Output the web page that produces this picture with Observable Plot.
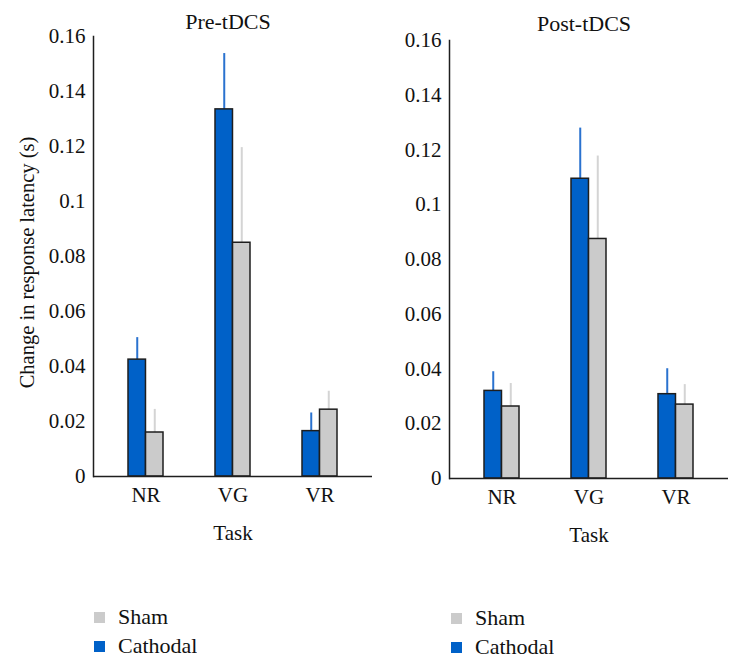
<!DOCTYPE html>
<html><head><meta charset="utf-8">
<script src="https://cdn.jsdelivr.net/npm/d3@7"></script>
<script src="https://cdn.jsdelivr.net/npm/@observablehq/plot@0.6"></script>
<style>
body{margin:0;background:#fff;}
#wrap{position:relative;width:742px;height:668px;font-family:"Liberation Serif",serif;color:#111;}
#left,#right{position:absolute;top:0;}
#left{left:0px}
#right{left:375px}
.leg{position:absolute;}
#legL{left:94px;top:603px}
#legR{left:451px;top:604px}
#wrap .lg-swatch{height:28px;display:flex;align-items:center;}
#wrap .lg-swatch svg{margin-right:13px;}
</style></head><body>
<div id="wrap"><div id="left"></div><div id="right"></div><div id="legL" class="leg"></div><div id="legR" class="leg"></div></div>
<script>
const tasks = ["NR", "VG", "VR"];
const legendOrder = ["Sham", "Cathodal"];
const preCathodal    = [0.0425, 0.1335, 0.0165];
const preCathodalErr = [0.0080, 0.0203, 0.0066];
const preSham        = [0.0160, 0.0850, 0.0243];
const preShamErr     = [0.0084, 0.0346, 0.0067];
const postCathodal    = [0.0320, 0.1095, 0.0308];
const postCathodalErr = [0.0070, 0.0185, 0.0093];
const postSham        = [0.0263, 0.0875, 0.0270];
const postShamErr     = [0.0084, 0.0303, 0.0073];
const yTicks = [0, 0.02, 0.04, 0.06, 0.08, 0.1, 0.12, 0.14, 0.16];
const titles = ["Pre-tDCS", "Post-tDCS"];
const xLabel = "Task";
const yLabel = "Change in response latency (s)";

const BLUE = "#0061c8", BLUE_ERR = "#2a72cf", GRAY = "#cbcbcb", GRAY_ERR = "#d4d4d4", INK = "#1e1e1e";
const FONT = "\"Liberation Serif\", \"Times New Roman\", serif";

function panel(title, cath, cathErr, sham, shamErr, o) {
  const cRows = tasks.map((t, i) => ({task: t, value: cath[i], err: cathErr[i]}));
  const sRows = tasks.map((t, i) => ({task: t, value: sham[i], err: shamErr[i]}));
  const pi = 0.598, po = 0.4;
  const bw = (o.width - o.marginLeft - o.marginRight) / (tasks.length - pi + 2 * po) * (1 - pi);
  const half = bw / 2;
  const marks = [
    Plot.ruleX(cRows, {x: "task", y1: "value", y2: d => d.value + d.err, stroke: BLUE_ERR, strokeWidth: 2, dx: -half / 2}),
    Plot.ruleX(sRows, {x: "task", y1: "value", y2: d => d.value + d.err, stroke: GRAY_ERR, strokeWidth: 2, dx: half / 2}),
    Plot.barY(cRows, {x: "task", y: "value", fill: BLUE, stroke: INK, strokeWidth: 1.5, insetRight: half}),
    Plot.barY(sRows, {x: "task", y: "value", fill: GRAY, stroke: INK, strokeWidth: 1.5, insetLeft: half}),
    Plot.ruleY([0], {stroke: INK, strokeWidth: 1.5}),
    Plot.frame({anchor: "left", stroke: INK, strokeWidth: 1.5}),
    Plot.text([title], {frameAnchor: "top", lineAnchor: "middle", dy: o.titleDy, dx: -5, fontSize: 22}),
    Plot.text([xLabel], {frameAnchor: "bottom", lineAnchor: "middle", dy: 57, fontSize: 21})
  ];
  if (o.yLabel) marks.push(Plot.text([o.yLabel], {frameAnchor: "left", rotate: -90, textAnchor: "middle", lineAnchor: "middle", dx: -66, dy: 6, fontSize: 20.5}));
  return Plot.plot({
    width: o.width, height: o.height,
    marginLeft: o.marginLeft, marginRight: o.marginRight, marginTop: o.marginTop, marginBottom: o.marginBottom,
    style: {fontFamily: FONT, fontSize: "21px", color: "#111", background: "transparent", overflow: "visible"},
    x: {domain: tasks, paddingInner: pi, paddingOuter: po, tickSize: 0, tickPadding: 11, label: null},
    y: {domain: [0, 0.16], ticks: yTicks, tickSize: 0, tickPadding: 8, label: null, tickFormat: d => String(+d.toFixed(2))},
    marks
  });
}

document.getElementById("left").append(panel(titles[0], preCathodal, preCathodalErr, preSham, preShamErr,
  {width: 375, height: 560, marginLeft: 93, marginRight: 3, marginTop: 36, marginBottom: 84, titleDy: -15, yLabel}));
document.getElementById("right").append(panel(titles[1], postCathodal, postCathodalErr, postSham, postShamErr,
  {width: 367, height: 560, marginLeft: 74, marginRight: 14, marginTop: 40, marginBottom: 82, titleDy: -17}));

for (const id of ["legL", "legR"]) {
  document.getElementById(id).append(Plot.legend({
    color: {type: "ordinal", domain: legendOrder, range: [GRAY, BLUE]},
    legend: "swatches", columns: 1, swatchSize: 11, className: "lg",
    style: {fontFamily: FONT, fontSize: "22px", color: "#111", margin: 0}
  }));
}
</script>
</body></html>
